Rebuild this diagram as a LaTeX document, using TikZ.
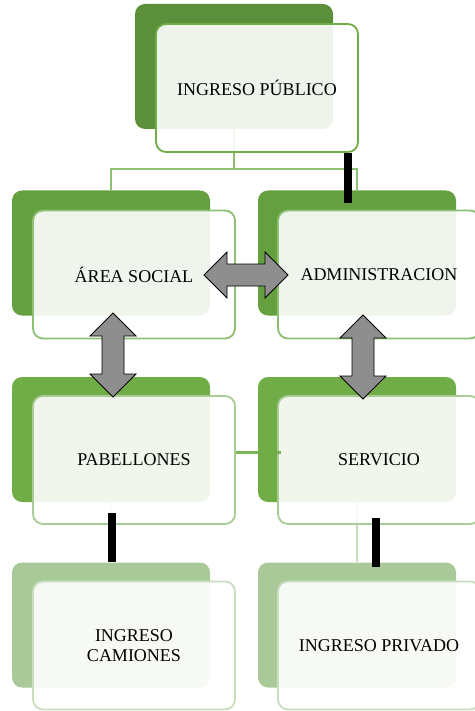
\documentclass[tikz,border=0pt]{standalone}
\usepackage{fontspec}
\setmainfont{Liberation Serif}
\definecolor{gA}{HTML}{5B8F3A}
\definecolor{gB}{HTML}{64A03F}
\definecolor{gC}{HTML}{70AD47}
\definecolor{gD}{HTML}{A9CA98}
\definecolor{oA}{HTML}{70AD47}
\definecolor{oB}{HTML}{8DC072}
\definecolor{oC}{HTML}{A9CC96}
\definecolor{oD}{HTML}{C8DEBE}
\definecolor{arrgray}{HTML}{8E8E8E}
\tikzset{
  backbox/.style={rectangle, rounded corners=10pt, minimum width=198pt, minimum height=125pt, inner sep=0pt, draw=none},
  frontbox/.style={rectangle, rounded corners=10pt, minimum width=202pt, minimum height=128pt, inner sep=0pt,
     line width=1.8pt, fill=white, fill opacity=0.9, text opacity=1, align=center,
     font=\fontsize{18}{19.5}\selectfont},
  conn/.style={draw=oB, line width=1.6pt},
  midconn/.style={draw=gC, line width=3pt, draw opacity=0.9},
  faint/.style={draw=oD, line width=1.6pt},
  bar/.style={draw=black, line width=8pt},
  pics/dblarrow/.style={code={
    \draw[fill=arrgray, draw=black, line width=0.8pt, line join=miter]
      (-42,0) -- (-19,23) -- (-19,11) -- (19,11) -- (19,23) -- (42,0)
      -- (19,-23) -- (19,-11) -- (-19,-11) -- (-19,-23) -- cycle;
  }}
}
\begin{document}
\begin{tikzpicture}[x=1pt,y=-1pt]
\useasboundingbox (0,0) rectangle (474,711);
% back boxes
\node[backbox, fill=gA] (b1) at (234,66.5) {};
\node[backbox, fill=gB] (b2) at (111,253) {};
\node[backbox, fill=gB] (b3) at (357,253) {};
\node[backbox, fill=gC] (b5) at (111,439.5) {};
\node[backbox, fill=gC] (b6) at (357,439.5) {};
\node[backbox, fill=gD] (b7) at (111,625) {};
\node[backbox, fill=gD] (b8) at (357,625) {};
% connectors
\coordinate (j1) at ([yshift=-40pt]b1.south);
\draw[conn] (b1.south) -- (j1);
\draw[conn] (b2.north) |- (j1) -| (b3.north);
\draw[faint] (b5.south) -- (b7.north);
\draw[faint] (b6.south) -- (b8.north);
% front boxes
\node[frontbox, draw=oA] (f1) at (257,88) {INGRESO PÚBLICO};
\node[frontbox, draw=oB] (f2) at (134,274.5) {ÁREA SOCIAL};
\node[frontbox, draw=oB] (f3) at (379,274.5) {ADMINISTRACION};
\node[frontbox, draw=oC] (f5) at (134,460) {PABELLONES};
\node[frontbox, draw=oC] (f6) at (379,460) {SERVICIO};
\node[frontbox, draw=oD] (f7) at (134,645.5) {INGRESO\\CAMIONES};
\node[frontbox, draw=oD] (f8) at (379,645.5) {INGRESO PRIVADO};
\draw[midconn] ([yshift=8pt]f5.east) -- ([yshift=8pt,xshift=4pt]f6.west);
% black bars
\draw[bar] ([xshift=91pt]f1.south) -- ([xshift=-9pt,yshift=-12.5pt]b3.north);
\draw[bar] ([xshift=-22pt,yshift=12pt]f5.south) -- ([xshift=1pt]b7.north);
\draw[bar] ([xshift=-3pt,yshift=7pt]f6.south) -- ([xshift=19pt,yshift=-4.5pt]b8.north);
% block arrows
\pic at (246,275) {dblarrow};
\pic[rotate=90] at (113,355) {dblarrow};
\pic[rotate=90] at (363,357) {dblarrow};
\end{tikzpicture}
\end{document}
